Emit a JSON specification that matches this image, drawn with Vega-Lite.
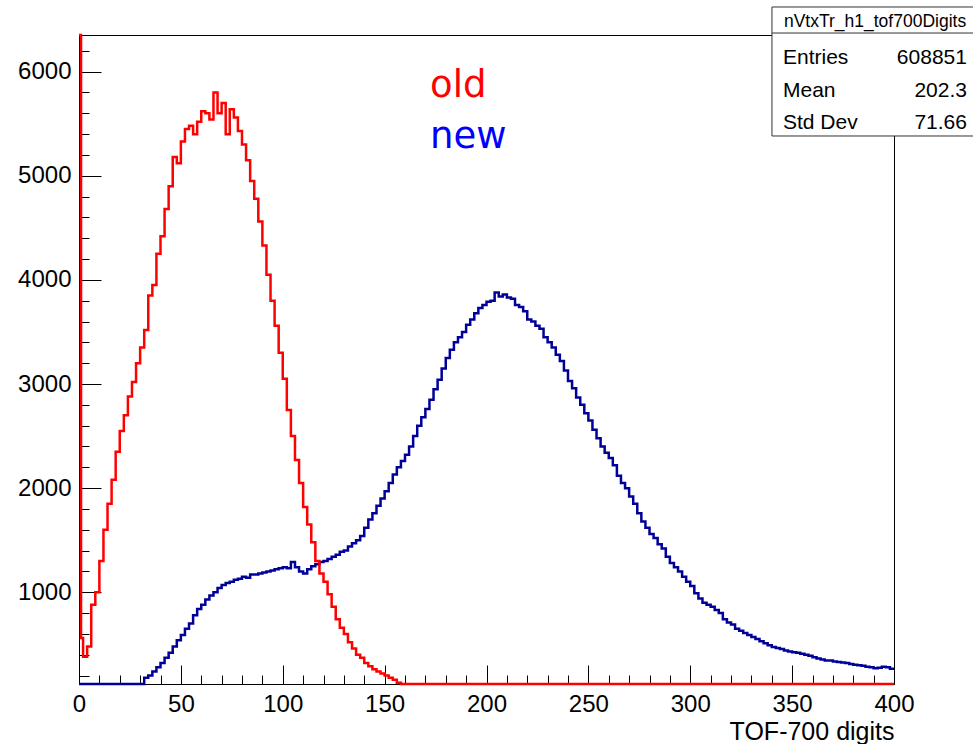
{
  "$schema": "https://vega.github.io/schema/vega-lite/v6.json",
  "autosize": "none",
  "width": 815,
  "height": 649,
  "padding": {"left": 79, "top": 35, "right": 79, "bottom": 60},
  "background": "white",
  "config": {
    "view": {"stroke": "#000", "strokeWidth": 1},
    "axis": {"grid": false, "labelColor": "#000", "tickColor": "#000", "domainColor": "#000", "labelFont": "Liberation Sans", "titleFont": "Liberation Sans", "tickWidth": 1, "domainWidth": 1}
  },
  "datasets": {
    "old": [
      {"bin":0,"count":6500},{"bin":1,"count":560},{"bin":2,"count":380},{"bin":4,"count":480},{"bin":6,"count":880},{"bin":8,"count":1000},
      {"bin":10,"count":1300},{"bin":12,"count":1600},{"bin":14,"count":1850},{"bin":16,"count":2080},{"bin":18,"count":2350},
      {"bin":20,"count":2550},{"bin":22,"count":2700},{"bin":24,"count":2880},{"bin":26,"count":3020},{"bin":28,"count":3200},
      {"bin":30,"count":3350},{"bin":32,"count":3520},{"bin":34,"count":3850},{"bin":36,"count":3950},{"bin":38,"count":4250},
      {"bin":40,"count":4420},{"bin":42,"count":4680},{"bin":44,"count":4900},{"bin":46,"count":5180},{"bin":48,"count":5120},
      {"bin":50,"count":5330},{"bin":52,"count":5450},{"bin":54,"count":5480},{"bin":56,"count":5400},{"bin":58,"count":5520},
      {"bin":60,"count":5620},{"bin":62,"count":5600},{"bin":64,"count":5540},{"bin":66,"count":5800},{"bin":68,"count":5600},
      {"bin":70,"count":5700},{"bin":72,"count":5400},{"bin":74,"count":5640},{"bin":76,"count":5560},{"bin":78,"count":5430},
      {"bin":80,"count":5300},{"bin":82,"count":5150},{"bin":84,"count":4950},{"bin":86,"count":4780},{"bin":88,"count":4560},
      {"bin":90,"count":4330},{"bin":92,"count":4050},{"bin":94,"count":3800},{"bin":96,"count":3560},{"bin":98,"count":3300},
      {"bin":100,"count":3050},{"bin":102,"count":2750},{"bin":104,"count":2500},{"bin":106,"count":2270},{"bin":108,"count":2050},
      {"bin":110,"count":1820},{"bin":112,"count":1650},{"bin":114,"count":1480},{"bin":116,"count":1300},{"bin":118,"count":1180},
      {"bin":120,"count":1100},{"bin":122,"count":980},{"bin":124,"count":860},{"bin":126,"count":740},{"bin":128,"count":660},
      {"bin":130,"count":600},{"bin":132,"count":520},{"bin":134,"count":460},{"bin":136,"count":400},{"bin":138,"count":370},
      {"bin":140,"count":320},{"bin":142,"count":290},{"bin":144,"count":260},{"bin":146,"count":240},{"bin":148,"count":220},
      {"bin":150,"count":200},{"bin":152,"count":180},{"bin":154,"count":160},{"bin":156,"count":130},{"bin":158,"count":110},
      {"bin":160,"count":60},{"bin":162,"count":30},{"bin":164,"count":0},{"bin":166,"count":0},{"bin":168,"count":0},
      {"bin":170,"count":0},{"bin":172,"count":0},{"bin":174,"count":0},{"bin":176,"count":0},{"bin":178,"count":0},
      {"bin":180,"count":0},{"bin":182,"count":0},{"bin":184,"count":0},{"bin":186,"count":0},{"bin":188,"count":0},
      {"bin":190,"count":0},{"bin":192,"count":0},{"bin":194,"count":0},{"bin":196,"count":0},{"bin":198,"count":0},
      {"bin":200,"count":0},{"bin":202,"count":0},{"bin":204,"count":0},{"bin":206,"count":0},{"bin":208,"count":0},
      {"bin":210,"count":0},{"bin":212,"count":0},{"bin":214,"count":0},{"bin":216,"count":0},{"bin":218,"count":0},
      {"bin":220,"count":0},{"bin":222,"count":0},{"bin":224,"count":0},{"bin":226,"count":0},{"bin":228,"count":0},
      {"bin":230,"count":0},{"bin":232,"count":0},{"bin":234,"count":0},{"bin":236,"count":0},{"bin":238,"count":0},
      {"bin":240,"count":0},{"bin":242,"count":0},{"bin":244,"count":0},{"bin":246,"count":0},{"bin":248,"count":0},
      {"bin":250,"count":0},{"bin":252,"count":0},{"bin":254,"count":0},{"bin":256,"count":0},{"bin":258,"count":0},
      {"bin":260,"count":0},{"bin":262,"count":0},{"bin":264,"count":0},{"bin":266,"count":0},{"bin":268,"count":0},
      {"bin":270,"count":0},{"bin":272,"count":0},{"bin":274,"count":0},{"bin":276,"count":0},{"bin":278,"count":0},
      {"bin":280,"count":0},{"bin":282,"count":0},{"bin":284,"count":0},{"bin":286,"count":0},{"bin":288,"count":0},
      {"bin":290,"count":0},{"bin":292,"count":0},{"bin":294,"count":0},{"bin":296,"count":0},{"bin":298,"count":0},
      {"bin":300,"count":0},{"bin":302,"count":0},{"bin":304,"count":0},{"bin":306,"count":0},{"bin":308,"count":0},
      {"bin":310,"count":0},{"bin":312,"count":0},{"bin":314,"count":0},{"bin":316,"count":0},{"bin":318,"count":0},
      {"bin":320,"count":0},{"bin":322,"count":0},{"bin":324,"count":0},{"bin":326,"count":0},{"bin":328,"count":0},
      {"bin":330,"count":0},{"bin":332,"count":0},{"bin":334,"count":0},{"bin":336,"count":0},{"bin":338,"count":0},
      {"bin":340,"count":0},{"bin":342,"count":0},{"bin":344,"count":0},{"bin":346,"count":0},{"bin":348,"count":0},
      {"bin":350,"count":0},{"bin":352,"count":0},{"bin":354,"count":0},{"bin":356,"count":0},{"bin":358,"count":0},
      {"bin":360,"count":0},{"bin":362,"count":0},{"bin":364,"count":0},{"bin":366,"count":0},{"bin":368,"count":0},
      {"bin":370,"count":0},{"bin":372,"count":0},{"bin":374,"count":0},{"bin":376,"count":0},{"bin":378,"count":0},
      {"bin":380,"count":0},{"bin":382,"count":0},{"bin":384,"count":0},{"bin":386,"count":0},{"bin":388,"count":0},
      {"bin":390,"count":0},{"bin":392,"count":0},{"bin":394,"count":0},{"bin":396,"count":0},{"bin":398,"count":0},
      {"bin":400,"count":0}
    ],
    "new": [
      {"bin":0,"count":0},{"bin":2,"count":0},{"bin":4,"count":0},{"bin":6,"count":0},{"bin":8,"count":0},
      {"bin":10,"count":0},{"bin":12,"count":0},{"bin":14,"count":0},{"bin":16,"count":0},{"bin":18,"count":0},
      {"bin":20,"count":0},{"bin":22,"count":0},{"bin":24,"count":0},{"bin":26,"count":0},{"bin":28,"count":0},
      {"bin":30,"count":100},{"bin":32,"count":180},{"bin":34,"count":200},{"bin":36,"count":240},{"bin":38,"count":280},
      {"bin":40,"count":320},{"bin":42,"count":370},{"bin":44,"count":420},{"bin":46,"count":480},{"bin":48,"count":540},
      {"bin":50,"count":590},{"bin":52,"count":650},{"bin":54,"count":700},{"bin":56,"count":780},{"bin":58,"count":840},
      {"bin":60,"count":880},{"bin":62,"count":930},{"bin":64,"count":970},{"bin":66,"count":1000},{"bin":68,"count":1040},
      {"bin":70,"count":1070},{"bin":72,"count":1090},{"bin":74,"count":1100},{"bin":76,"count":1120},{"bin":78,"count":1130},
      {"bin":80,"count":1150},{"bin":82,"count":1140},{"bin":84,"count":1170},{"bin":86,"count":1170},{"bin":88,"count":1180},
      {"bin":90,"count":1190},{"bin":92,"count":1200},{"bin":94,"count":1210},{"bin":96,"count":1220},{"bin":98,"count":1230},
      {"bin":100,"count":1240},{"bin":102,"count":1230},{"bin":104,"count":1290},{"bin":106,"count":1240},{"bin":108,"count":1200},
      {"bin":110,"count":1180},{"bin":112,"count":1220},{"bin":114,"count":1250},{"bin":116,"count":1270},{"bin":118,"count":1290},
      {"bin":120,"count":1300},{"bin":122,"count":1320},{"bin":124,"count":1340},{"bin":126,"count":1360},{"bin":128,"count":1390},
      {"bin":130,"count":1400},{"bin":132,"count":1440},{"bin":134,"count":1470},{"bin":136,"count":1500},{"bin":138,"count":1540},
      {"bin":140,"count":1620},{"bin":142,"count":1700},{"bin":144,"count":1760},{"bin":146,"count":1830},{"bin":148,"count":1900},
      {"bin":150,"count":1970},{"bin":152,"count":2050},{"bin":154,"count":2130},{"bin":156,"count":2200},{"bin":158,"count":2260},
      {"bin":160,"count":2320},{"bin":162,"count":2400},{"bin":164,"count":2500},{"bin":166,"count":2600},{"bin":168,"count":2680},
      {"bin":170,"count":2760},{"bin":172,"count":2850},{"bin":174,"count":2950},{"bin":176,"count":3040},{"bin":178,"count":3150},
      {"bin":180,"count":3250},{"bin":182,"count":3330},{"bin":184,"count":3400},{"bin":186,"count":3450},{"bin":188,"count":3500},
      {"bin":190,"count":3570},{"bin":192,"count":3620},{"bin":194,"count":3680},{"bin":196,"count":3730},{"bin":198,"count":3760},
      {"bin":200,"count":3790},{"bin":202,"count":3800},{"bin":204,"count":3880},{"bin":206,"count":3840},{"bin":208,"count":3860},
      {"bin":210,"count":3830},{"bin":212,"count":3820},{"bin":214,"count":3760},{"bin":216,"count":3740},{"bin":218,"count":3700},
      {"bin":220,"count":3620},{"bin":222,"count":3600},{"bin":224,"count":3560},{"bin":226,"count":3530},{"bin":228,"count":3450},
      {"bin":230,"count":3400},{"bin":232,"count":3350},{"bin":234,"count":3280},{"bin":236,"count":3220},{"bin":238,"count":3130},
      {"bin":240,"count":3030},{"bin":242,"count":2960},{"bin":244,"count":2870},{"bin":246,"count":2800},{"bin":248,"count":2720},
      {"bin":250,"count":2650},{"bin":252,"count":2560},{"bin":254,"count":2480},{"bin":256,"count":2400},{"bin":258,"count":2340},
      {"bin":260,"count":2290},{"bin":262,"count":2220},{"bin":264,"count":2120},{"bin":266,"count":2050},{"bin":268,"count":2000},
      {"bin":270,"count":1920},{"bin":272,"count":1850},{"bin":274,"count":1760},{"bin":276,"count":1680},{"bin":278,"count":1620},
      {"bin":280,"count":1560},{"bin":282,"count":1520},{"bin":284,"count":1460},{"bin":286,"count":1420},{"bin":288,"count":1340},
      {"bin":290,"count":1280},{"bin":292,"count":1240},{"bin":294,"count":1200},{"bin":296,"count":1150},{"bin":298,"count":1100},
      {"bin":300,"count":1060},{"bin":302,"count":990},{"bin":304,"count":940},{"bin":306,"count":900},{"bin":308,"count":880},
      {"bin":310,"count":860},{"bin":312,"count":830},{"bin":314,"count":800},{"bin":316,"count":740},{"bin":318,"count":710},
      {"bin":320,"count":690},{"bin":322,"count":650},{"bin":324,"count":630},{"bin":326,"count":610},{"bin":328,"count":590},
      {"bin":330,"count":570},{"bin":332,"count":550},{"bin":334,"count":530},{"bin":336,"count":510},{"bin":338,"count":490},
      {"bin":340,"count":475},{"bin":342,"count":465},{"bin":344,"count":455},{"bin":346,"count":440},{"bin":348,"count":430},
      {"bin":350,"count":425},{"bin":352,"count":420},{"bin":354,"count":410},{"bin":356,"count":400},{"bin":358,"count":390},
      {"bin":360,"count":375},{"bin":362,"count":365},{"bin":364,"count":355},{"bin":366,"count":345},{"bin":368,"count":345},
      {"bin":370,"count":335},{"bin":372,"count":330},{"bin":374,"count":325},{"bin":376,"count":320},{"bin":378,"count":310},
      {"bin":380,"count":305},{"bin":382,"count":300},{"bin":384,"count":295},{"bin":386,"count":285},{"bin":388,"count":280},
      {"bin":390,"count":270},{"bin":392,"count":275},{"bin":394,"count":285},{"bin":396,"count":280},{"bin":398,"count":265},
      {"bin":400,"count":265}
    ],
    "labels": [{"series": "old"}, {"series": "new"}],
    "header": [{"name": "nVtxTr_h1_tof700Digits"}],
    "stats": [{"stat": "Entries", "value": "608851"}, {"stat": "Mean", "value": "202.3"}, {"stat": "Std Dev", "value": "71.66"}]
  },
  "resolve": {"scale": {"x": "independent", "y": "independent"}},
  "layer": [
    {
      "data": {"name": "new"},
      "mark": {"type": "line", "interpolate": "step-after", "strokeWidth": 2.5, "color": "#000099"},
      "encoding": {
        "x": {"field": "bin", "type": "quantitative", "scale": {"domain": [0, 400], "nice": false, "zero": false},
              "axis": {"orient": "bottom", "values": [0, 50, 100, 150, 200, 250, 300, 350, 400], "format": "d", "ticks": false, "domain": true, "labelFontSize": 24, "labelPadding": 8, "labelFlush": false, "labelOverlap": false,
                       "title": "TOF-700 digits", "titleFontSize": 25, "titleFontWeight": "normal", "titleColor": "#000", "titleAnchor": "end", "titleAlign": "right", "titleBaseline": "alphabetic", "titleX": 815, "titleY": 55}},
        "y": {"field": "count", "type": "quantitative", "scale": {"domain": [119, 6352], "clamp": true, "nice": false, "zero": false},
              "axis": {"orient": "left", "values": [1000, 2000, 3000, 4000, 5000, 6000], "format": "d", "ticks": false, "domain": true, "labelFontSize": 24, "labelPadding": 8, "labelOverlap": false, "title": null}}
      }
    },
    {
      "data": {"name": "old"},
      "mark": {"type": "line", "interpolate": "step-after", "strokeWidth": 2.5, "color": "#ff0000"},
      "encoding": {
        "x": {"field": "bin", "type": "quantitative", "scale": {"domain": [0, 400], "nice": false, "zero": false},
              "axis": {"orient": "bottom", "values": [0, 50, 100, 150, 200, 250, 300, 350, 400], "labels": false, "domain": false, "tickSize": -19, "title": null}},
        "y": {"field": "count", "type": "quantitative", "scale": {"domain": [119, 6352], "clamp": true, "nice": false, "zero": false},
              "axis": {"orient": "left", "values": [1000, 2000, 3000, 4000, 5000, 6000], "labels": false, "domain": false, "tickSize": -22, "title": null}}
      }
    },
    {
      "data": {"name": "labels"},
      "transform": [{"filter": "datum.series == 'old'"}],
      "mark": {"type": "text", "align": "left", "baseline": "alphabetic", "font": "DejaVu Sans", "fontSize": 37, "color": "#ff0000"},
      "encoding": {
        "text": {"field": "series"},
        "x": {"datum": 172.3, "type": "quantitative", "scale": {"domain": [0, 400], "nice": false, "zero": false},
              "axis": {"orient": "bottom", "values": [0,10,20,30,40,50,60,70,80,90,100,110,120,130,140,150,160,170,180,190,200,210,220,230,240,250,260,270,280,290,300,310,320,330,340,350,360,370,380,390,400], "labels": false, "domain": false, "tickSize": -9, "title": null}},
        "y": {"datum": 5757, "type": "quantitative", "scale": {"domain": [119, 6352], "nice": false, "zero": false},
              "axis": {"orient": "left", "values": [200,400,600,800,1000,1200,1400,1600,1800,2000,2200,2400,2600,2800,3000,3200,3400,3600,3800,4000,4200,4400,4600,4800,5000,5200,5400,5600,5800,6000,6200], "labels": false, "domain": false, "tickSize": -10, "title": null}}
      }
    },
    {
      "data": {"name": "labels"},
      "transform": [{"filter": "datum.series == 'new'"}],
      "mark": {"type": "text", "align": "left", "baseline": "alphabetic", "font": "DejaVu Sans", "fontSize": 37, "color": "#0000ff"},
      "encoding": {
        "text": {"field": "series"},
        "x": {"datum": 172.3, "type": "quantitative", "scale": {"domain": [0, 400], "nice": false, "zero": false}, "axis": null},
        "y": {"datum": 5267, "type": "quantitative", "scale": {"domain": [119, 6352], "nice": false, "zero": false}, "axis": null}
      }
    },
    {
      "data": {"values": [{}]},
      "mark": {"type": "rect", "fill": "white", "stroke": "#333", "strokeWidth": 1},
      "encoding": {
        "x": {"datum": 340.1, "type": "quantitative", "scale": {"domain": [0, 400], "nice": false, "zero": false}, "axis": null},
        "x2": {"datum": 439.8},
        "y": {"datum": 6621, "type": "quantitative", "scale": {"domain": [119, 6352], "nice": false, "zero": false}, "axis": null},
        "y2": {"datum": 5382}
      }
    },
    {
      "data": {"values": [{}]},
      "mark": {"type": "rule", "stroke": "#333", "strokeWidth": 1},
      "encoding": {
        "x": {"datum": 340.1, "type": "quantitative", "scale": {"domain": [0, 400], "nice": false, "zero": false}, "axis": null},
        "x2": {"datum": 439.8},
        "y": {"datum": 6371, "type": "quantitative", "scale": {"domain": [119, 6352], "nice": false, "zero": false}, "axis": null}
      }
    },
    {
      "data": {"name": "header"},
      "mark": {"type": "text", "align": "center", "baseline": "alphabetic", "font": "Liberation Sans", "fontSize": 17.5, "color": "#000"},
      "encoding": {
        "text": {"field": "name"},
        "x": {"datum": 390.7, "type": "quantitative", "scale": {"domain": [0, 400], "nice": false, "zero": false}, "axis": null},
        "y": {"datum": 6429, "type": "quantitative", "scale": {"domain": [119, 6352], "nice": false, "zero": false}, "axis": null}
      }
    },
    {
      "data": {"name": "stats"},
      "transform": [{"filter": "datum.stat == 'Entries'"}],
      "mark": {"type": "text", "align": "left", "baseline": "alphabetic", "font": "Liberation Sans", "fontSize": 21, "color": "#000"},
      "encoding": {
        "text": {"field": "stat"},
        "x": {"datum": 345.5, "type": "quantitative", "scale": {"domain": [0, 400], "nice": false, "zero": false}, "axis": null},
        "y": {"datum": 6074, "type": "quantitative", "scale": {"domain": [119, 6352], "nice": false, "zero": false}, "axis": null}
      }
    },
    {
      "data": {"name": "stats"},
      "transform": [{"filter": "datum.stat == 'Entries'"}],
      "mark": {"type": "text", "align": "right", "baseline": "alphabetic", "font": "Liberation Sans", "fontSize": 21, "color": "#000"},
      "encoding": {
        "text": {"field": "value"},
        "x": {"datum": 435.8, "type": "quantitative", "scale": {"domain": [0, 400], "nice": false, "zero": false}, "axis": null},
        "y": {"datum": 6074, "type": "quantitative", "scale": {"domain": [119, 6352], "nice": false, "zero": false}, "axis": null}
      }
    },
    {
      "data": {"name": "stats"},
      "transform": [{"filter": "datum.stat == 'Mean'"}],
      "mark": {"type": "text", "align": "left", "baseline": "alphabetic", "font": "Liberation Sans", "fontSize": 21, "color": "#000"},
      "encoding": {
        "text": {"field": "stat"},
        "x": {"datum": 345.5, "type": "quantitative", "scale": {"domain": [0, 400], "nice": false, "zero": false}, "axis": null},
        "y": {"datum": 5757, "type": "quantitative", "scale": {"domain": [119, 6352], "nice": false, "zero": false}, "axis": null}
      }
    },
    {
      "data": {"name": "stats"},
      "transform": [{"filter": "datum.stat == 'Mean'"}],
      "mark": {"type": "text", "align": "right", "baseline": "alphabetic", "font": "Liberation Sans", "fontSize": 21, "color": "#000"},
      "encoding": {
        "text": {"field": "value"},
        "x": {"datum": 435.8, "type": "quantitative", "scale": {"domain": [0, 400], "nice": false, "zero": false}, "axis": null},
        "y": {"datum": 5757, "type": "quantitative", "scale": {"domain": [119, 6352], "nice": false, "zero": false}, "axis": null}
      }
    },
    {
      "data": {"name": "stats"},
      "transform": [{"filter": "datum.stat == 'Std Dev'"}],
      "mark": {"type": "text", "align": "left", "baseline": "alphabetic", "font": "Liberation Sans", "fontSize": 21, "color": "#000"},
      "encoding": {
        "text": {"field": "stat"},
        "x": {"datum": 345.5, "type": "quantitative", "scale": {"domain": [0, 400], "nice": false, "zero": false}, "axis": null},
        "y": {"datum": 5449, "type": "quantitative", "scale": {"domain": [119, 6352], "nice": false, "zero": false}, "axis": null}
      }
    },
    {
      "data": {"name": "stats"},
      "transform": [{"filter": "datum.stat == 'Std Dev'"}],
      "mark": {"type": "text", "align": "right", "baseline": "alphabetic", "font": "Liberation Sans", "fontSize": 21, "color": "#000"},
      "encoding": {
        "text": {"field": "value"},
        "x": {"datum": 435.8, "type": "quantitative", "scale": {"domain": [0, 400], "nice": false, "zero": false}, "axis": null},
        "y": {"datum": 5449, "type": "quantitative", "scale": {"domain": [119, 6352], "nice": false, "zero": false}, "axis": null}
      }
    }
  ]
}
